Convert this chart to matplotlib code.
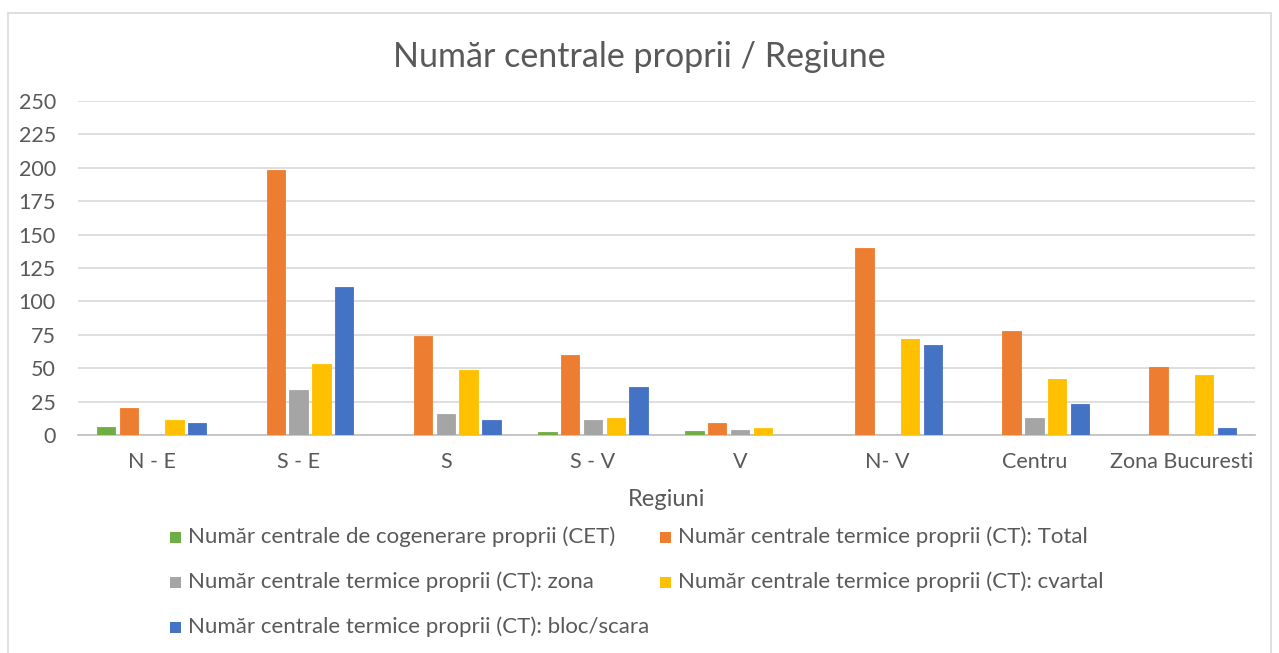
import matplotlib
matplotlib.use("Agg")
import matplotlib.pyplot as plt
import numpy as np
from matplotlib.patches import Rectangle

regions = ["N - E", "S - E", "S", "S - V", "V", "N- V", "Centru", "Zona Bucuresti"]
cet = [6, 0, 0, 2, 3, 0, 0, 0]
ct_total = [20, 198, 74, 60, 9, 140, 78, 51]
ct_zona = [0, 34, 16, 11, 4, 0, 13, 0]
ct_cvartal = [11, 53, 49, 13, 5, 72, 42, 45]
ct_bloc = [9, 111, 11, 36, 0, 67, 23, 5]

series_names = [
    "Număr centrale de cogenerare proprii (CET)",
    "Număr centrale termice proprii (CT): Total",
    "Număr centrale termice proprii (CT): zona",
    "Număr centrale termice proprii (CT): cvartal",
    "Număr centrale termice proprii (CT): bloc/scara",
]
colors = ["#70AD47", "#ED7D31", "#A5A5A5", "#FFC000", "#4472C4"]
yticks = [0, 25, 50, 75, 100, 125, 150, 175, 200, 225, 250]

plt.rcParams['font.family'] = ['Lato', 'DejaVu Sans']

W, H = 1279, 653
fig = plt.figure(figsize=(W / 100, H / 100), dpi=100)
ax = fig.add_axes([78 / W, 1 - 435 / H, (1255 - 78) / W, (435 - 101) / H])

x = np.arange(len(regions))
all_series = [cet, ct_total, ct_zona, ct_cvartal, ct_bloc]
step = 0.155
width = 0.125
for i, (vals, c) in enumerate(zip(all_series, colors)):
    ax.bar(x + (i - 2) * step, vals, width=width, color=c, edgecolor=c,
           linewidth=0.6, zorder=3)

ax.set_xlim(-0.5, len(regions) - 0.5)
ax.set_ylim(0, 250)
ax.set_yticks(yticks)
ax.set_yticklabels([str(v) for v in yticks])
ax.set_xticks(x)
ax.set_xticklabels(regions)
ax.yaxis.grid(True, color="#D9D9D9", linewidth=1.2, zorder=0)
ax.set_axisbelow(True)
for s in ["top", "right", "left"]:
    ax.spines[s].set_visible(False)
ax.spines["bottom"].set_color("#BFBFBF")
ax.spines["bottom"].set_linewidth(1.2)
ax.tick_params(axis="both", length=0, labelsize=15.5, colors="#595959")
ax.tick_params(axis="y", pad=16)
ax.tick_params(axis="x", pad=12)

fig.text(0.5, 1 - 57 / H, "Număr centrale proprii / Regiune", ha="center", va="center",
         fontsize=24.5, color="#595959")
fig.text(667 / W, 1 - 500 / H, "Regiuni", ha="center", va="center",
         fontsize=17, color="#595959")

# legend drawn manually
legend_pos = [(170, 537), (660, 537), (170, 582), (660, 582), (170, 627)]
for (lx, ly), name, c in zip(legend_pos, series_names, colors):
    fig.patches.append(Rectangle((lx / W, 1 - (ly + 5.5) / H), 11 / W, 11 / H,
                                 transform=fig.transFigure, facecolor=c,
                                 edgecolor="none"))
    fig.text((lx + 18) / W, 1 - ly / H, name, ha="left", va="center",
             fontsize=16, color="#595959")

# chart border
fig.patches.append(Rectangle((8 / W, -0.05), (1271 - 8) / W, 1.05 - 13 / H,
                             transform=fig.transFigure, facecolor="none",
                             edgecolor="#D9D9D9", linewidth=1.2))

fig.savefig("out.png", dpi=100)
